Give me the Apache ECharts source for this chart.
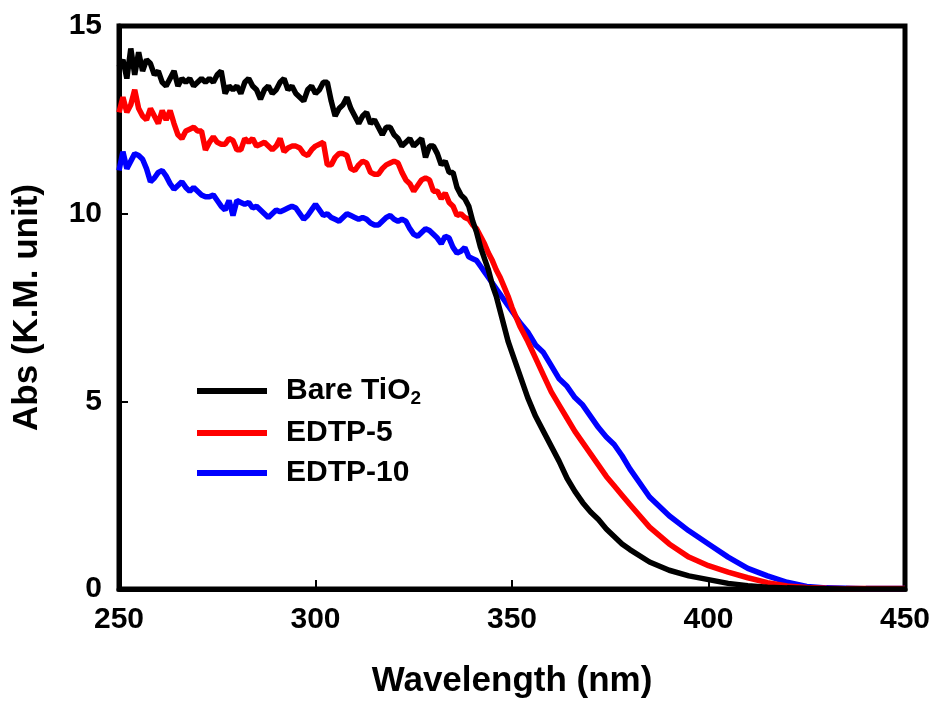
<!DOCTYPE html>
<html>
<head>
<meta charset="utf-8">
<script src="https://cdn.jsdelivr.net/npm/echarts@6/dist/echarts.min.js"></script>
<style>
html,body{margin:0;padding:0;background:#fff;}
#chart{width:937px;height:704px;}
</style>
</head>
<body>
<div id="chart"></div>
<script>
// Wavelength (nm)
const wavelength = [];
for (let w = 250; w <= 350; w += 1) wavelength.push(w);
for (let w = 352; w <= 380; w += 2) wavelength.push(w);
for (let w = 385; w <= 450; w += 5) wavelength.push(w);

const seriesNames = ['Bare TiO2', 'EDTP-5', 'EDTP-10'];

const bareTiO2 = [
 13.9,14.1,13.6,14.4,13.7,14.3,13.8,14.1,14.0,13.7,
 13.8,13.5,13.4,13.6,13.8,13.4,13.6,13.5,13.6,13.4,
 13.5,13.6,13.5,13.6,13.5,13.7,13.8,13.2,13.4,13.3,
 13.4,13.2,13.5,13.6,13.4,13.3,13.05,13.3,13.4,13.2,
 13.3,13.5,13.6,13.3,13.4,13.2,13.1,13.0,13.3,13.4,
 13.2,13.3,13.5,13.5,13.0,12.6,12.8,12.9,13.1,12.8,
 12.6,12.4,12.6,12.7,12.4,12.5,12.3,12.1,12.3,12.3,
 12.1,12.0,11.8,11.9,12.0,11.8,11.9,12.0,11.5,11.8,
 11.8,11.6,11.3,11.4,11.1,11.1,10.7,10.5,10.4,10.2,
 9.8,9.5,9.1,8.8,8.5,8.1,7.8,7.4,7.0,6.6,
 6.3,
 5.7,5.1,4.6,4.2,3.8,3.4,2.95,2.6,2.3,2.05,1.85,1.6,1.4,1.2,1.05,
 0.72,0.5,0.35,0.25,0.15,0.09,0.05,0.03,0.02,0.01,0,0,0,0
];

const edtp5 = [
 12.7,13.1,12.7,12.9,13.3,12.8,12.6,12.5,12.8,12.6,
 12.4,12.75,12.5,12.75,12.4,12.1,12.0,12.2,12.25,12.3,
 12.2,12.2,11.7,11.9,12.05,11.9,11.85,11.85,12.0,11.95,
 11.7,11.7,12.0,11.9,12.0,11.8,11.85,11.9,11.8,11.7,
 11.8,12.0,11.65,11.75,11.8,11.8,11.75,11.6,11.55,11.7,
 11.8,11.85,11.9,11.3,11.3,11.5,11.6,11.6,11.55,11.2,
 11.15,11.3,11.4,11.35,11.1,11.05,11.05,11.2,11.3,11.35,
 11.4,11.35,11.1,10.9,10.8,10.6,10.75,10.9,10.95,10.9,
 10.6,10.6,10.4,10.55,10.3,10.2,9.95,10.0,9.9,9.85,
 9.7,9.6,9.4,9.2,8.95,8.75,8.5,8.3,8.05,7.8,
 7.5,
 7.0,6.6,6.15,5.7,5.25,4.9,4.55,4.2,3.9,3.6,3.3,3.0,2.75,2.5,2.25,
 1.65,1.2,0.85,0.62,0.45,0.3,0.17,0.08,0.04,0.02,0.01,0.01,0.01,0.01
];

const edtp10 = [
 11.15,11.65,11.2,11.4,11.6,11.55,11.45,11.2,10.85,10.95,
 11.1,11.15,11.0,10.8,10.65,10.75,10.85,10.7,10.6,10.7,
 10.6,10.5,10.45,10.45,10.5,10.35,10.2,10.1,10.35,9.95,
 10.35,10.3,10.25,10.3,10.15,10.2,10.1,10.0,9.9,10.0,
 10.1,10.05,10.1,10.15,10.2,10.15,10.0,9.85,9.95,10.1,
 10.25,10.1,9.95,10.0,9.9,9.85,9.8,9.9,10.0,9.95,
 9.9,9.85,9.9,9.85,9.75,9.7,9.7,9.8,9.9,9.95,
 9.85,9.8,9.85,9.8,9.6,9.45,9.4,9.5,9.6,9.55,
 9.45,9.35,9.2,9.4,9.35,9.1,8.95,9.0,9.1,8.85,
 8.8,8.75,8.6,8.45,8.3,8.15,8.0,7.85,7.7,7.55,
 7.4,
 7.1,6.85,6.5,6.3,5.95,5.6,5.4,5.1,4.9,4.6,4.3,4.05,3.85,3.55,3.2,
 2.45,1.95,1.55,1.2,0.85,0.55,0.35,0.18,0.07,0.03,0.02,0.01,0.01,0.01
];

const xTicks = [250, 300, 350, 400, 450];
const yTicks = [0, 5, 10, 15];

const colors = ['#000000', '#ff0000', '#0000ff'];
const values = [bareTiO2, edtp5, edtp10];

const chart = echarts.init(document.getElementById('chart'));
const font = '"Liberation Sans", Arial, sans-serif';

chart.setOption({
  animation: false,
  backgroundColor: '#ffffff',
  grid: {
    left: 119, right: 32, top: 26, bottom: 114,
    show: true, borderColor: '#000', borderWidth: 5, backgroundColor: 'transparent'
  },
  legend: {
    orient: 'vertical',
    left: 192, top: 366,
    itemWidth: 70, itemHeight: 6,
    itemGap: 10,
    icon: 'rect',
    data: seriesNames,
    formatter: function (name) {
      if (name === 'Bare TiO2') return '{n|Bare TiO}{s|2}';
      return '{n|' + name + '}';
    },
    textStyle: {
      fontFamily: font, fontWeight: 'bold', fontSize: 30, color: '#000', padding: [0,0,0,14],
      rich: {
        n: { fontFamily: font, fontWeight: 'bold', fontSize: 30, color: '#000', lineHeight: 34 },
        s: { fontFamily: font, fontWeight: 'bold', fontSize: 19, color: '#000', lineHeight: 34, verticalAlign: 'bottom', padding: [18,0,0,0] }
      }
    }
  },
  xAxis: {
    type: 'value', min: 250, max: 450, interval: 50,
    name: 'Wavelength (nm)', nameLocation: 'middle', nameGap: 75,
    nameTextStyle: { fontFamily: font, fontWeight: 'bold', fontSize: 35, color: '#000' },
    axisLine: { show: true, lineStyle: { color: '#000', width: 5 } },
    axisTick: { show: true, inside: true, length: 9, lineStyle: { color: '#000', width: 2 } },
    axisLabel: { fontFamily: font, fontWeight: 'bold', fontSize: 30, color: '#000', margin: 16,
      formatter: v => xTicks.includes(v) ? String(v) : '' },
    splitLine: { show: false }
  },
  yAxis: {
    type: 'value', min: 0, max: 15, interval: 5,
    name: 'Abs (K.M. unit)', nameLocation: 'middle', nameGap: 74,
    nameTextStyle: { fontFamily: font, fontWeight: 'bold', fontSize: 35, color: '#000' },
    axisLine: { show: true, lineStyle: { color: '#000', width: 5 } },
    axisTick: { show: true, inside: true, length: 9, lineStyle: { color: '#000', width: 2 } },
    axisLabel: { fontFamily: font, fontWeight: 'bold', fontSize: 30, color: '#000', margin: 17,
      formatter: v => yTicks.includes(v) ? String(v) : '' },
    splitLine: { show: false }
  },
  series: seriesNames.map((name, i) => ({
    name: name,
    type: 'line',
    showSymbol: false,
    symbol: 'none',
    data: wavelength.map((w, k) => [w, values[i][k]]),
    lineStyle: { color: colors[i], width: 5.5 },
    itemStyle: { color: colors[i] },
    z: 3 - i
  }))
});
</script>
</body>
</html>
